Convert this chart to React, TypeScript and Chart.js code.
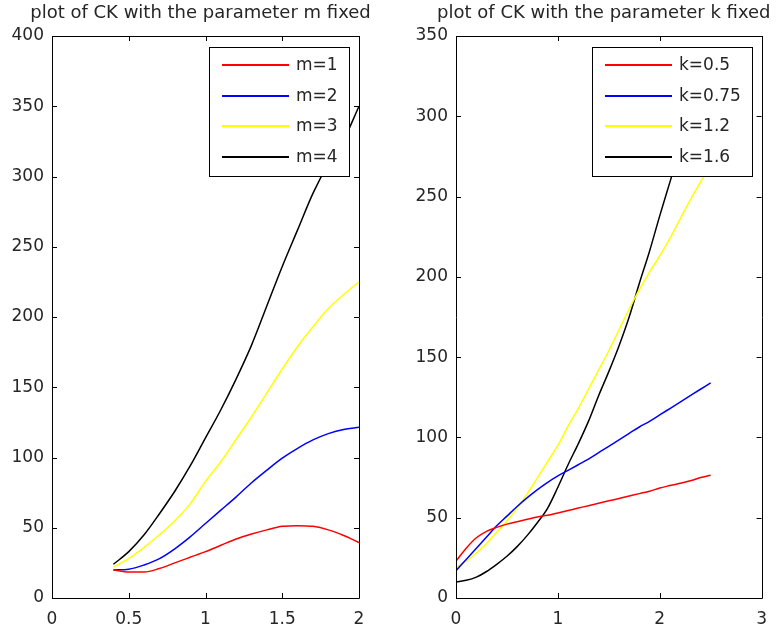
import React, { useEffect, useRef } from "react";
import { Chart, registerables } from "chart.js";
Chart.register(...registerables);

// ---- Left subplot: parameter m fixed ----
const mX = [0.4, 0.5, 0.6, 0.7, 0.8, 0.9, 1.0, 1.1, 1.2, 1.3, 1.4, 1.5, 1.6, 1.7, 1.8, 1.9, 2.0];
const mOne = [20, 18.5, 18.5, 21, 25, 29, 33, 37.5, 42, 45.5, 48.5, 51, 51.5, 51, 48.5, 44.5, 39.5];
const mTwo = [20, 20.5, 23.5, 28, 35, 43.5, 53, 62.5, 72, 82, 91, 99.5, 106.5, 112.5, 117, 120, 121.5];
const mThree = [22, 28, 36, 45, 55, 67, 83, 97, 113, 129, 146, 163, 179, 193, 206, 216, 225];
const mFour = [24, 33, 45, 60, 76, 94, 114, 134, 156, 180, 208, 236, 262, 288, 309, 326, 350];
const mLabels = ["m=1", "m=2", "m=3", "m=4"];
const mXTicks = [0, 0.5, 1, 1.5, 2];
const mYTicks = [0, 50, 100, 150, 200, 250, 300, 350, 400];

// ---- Right subplot: parameter k fixed ----
const kX = [0, 0.1, 0.2, 0.3, 0.4, 0.5, 0.6, 0.7, 0.8, 0.9, 1.0, 1.1, 1.2, 1.3, 1.4, 1.5, 1.6, 1.7, 1.8, 1.9, 2.0, 2.1, 2.2, 2.3, 2.4, 2.5];
const kHalf = [23, 31, 37.5, 41.5, 44, 46, 47.5, 49, 50.5, 51.5, 53, 54.5, 56, 57.5, 59, 60.5, 62, 63.5, 65, 66.5, 68.5, 70, 71.5, 73, 75, 76.5];
const kThreeQ = [17, 24, 31, 38, 45, 51, 57, 62.5, 67.5, 72, 76, 79.5, 83, 86.5, 90.5, 94.5, 98.5, 102.5, 106.5, 110, 114, 118, 122, 126, 130, 134];
const kOnePtTwo = [19, 23, 28, 34, 41, 48, 56, 65, 75, 85, 95, 107, 118, 130, 142, 154, 167, 180, 192, 203, 213, 224, 236, 248, 259, 270];
const kOnePtSix = [10, 11, 13, 16.5, 21, 26, 32, 39, 47, 56, 69, 83, 96, 110, 126, 141, 157, 175, 196, 216, 238, 259, 280, 300, 320, 338];
const kLabels = ["k=0.5", "k=0.75", "k=1.2", "k=1.6"];
const kXTicks = [0, 1, 2, 3];
const kYTicks = [0, 50, 100, 150, 200, 250, 300, 350];

const seriesColors = ["#ff0000", "#0000ff", "#ffff00", "#000000"];
const FONT = "'DejaVu Sans', sans-serif";
const TEXT = "#262626";

type PlotProps = {
  xs: number[];
  series: number[][];
  labels: string[];
  xTicks: number[];
  yTicks: number[];
  title: string;
  width: number;
  height: number;
  yAxisWidth: number;
  padRight: number;
  left: number;
};

function Plot(p: PlotProps) {
  const ref = useRef<HTMLCanvasElement>(null);
  useEffect(() => {
    if (!ref.current) return;
    const frame = {
      id: "frame",
      afterDatasetsDraw(chart: any) {
        const { ctx, chartArea } = chart;
        const { left, right, top, bottom } = chartArea;
        const xs = chart.scales.x;
        const ys = chart.scales.y;
        ctx.save();
        ctx.strokeStyle = "#000";
        ctx.lineWidth = 1;
        ctx.beginPath();
        ctx.rect(Math.round(left) + 0.5, Math.round(top) + 0.5, Math.round(right - left), Math.round(bottom - top));
        ctx.stroke();
        const tl = 5;
        ctx.beginPath();
        for (const t of xs.ticks) {
          const px = Math.round(xs.getPixelForValue(t.value)) + 0.5;
          ctx.moveTo(px, bottom);
          ctx.lineTo(px, bottom - tl);
          ctx.moveTo(px, top);
          ctx.lineTo(px, top + tl);
        }
        for (const t of ys.ticks) {
          const py = Math.round(ys.getPixelForValue(t.value)) + 0.5;
          ctx.moveTo(left, py);
          ctx.lineTo(left + tl, py);
          ctx.moveTo(right, py);
          ctx.lineTo(right - tl, py);
        }
        ctx.stroke();
        ctx.restore();
      },
      afterDraw(chart: any) {
        const { ctx, chartArea } = chart;
        const { left, right, top } = chartArea;
        ctx.save();
        // title
        ctx.fillStyle = TEXT;
        ctx.font = `18px ${FONT}`;
        ctx.textAlign = "center";
        ctx.textBaseline = "alphabetic";
        ctx.fillText(p.title, (left + right) / 2 - 5, 18);
        // legend
        ctx.font = `17px ${FONT}`;
        const tw = Math.max(...p.labels.map((l) => ctx.measureText(l).width));
        const lineLen = 67;
        const w = Math.round(13 + lineLen + 7 + tw + 11);
        const h = 129;
        const bx = Math.round(right - 10 - w);
        const by = Math.round(top + 11);
        ctx.fillStyle = "#fff";
        ctx.fillRect(bx, by, w, h);
        ctx.strokeStyle = "#000";
        ctx.lineWidth = 1;
        ctx.strokeRect(bx + 0.5, by + 0.5, w, h);
        ctx.textAlign = "left";
        ctx.textBaseline = "middle";
        p.labels.forEach((lab, i) => {
          const cy = Math.round(by + 18 + i * 30.7);
          ctx.strokeStyle = seriesColors[i];
          ctx.lineWidth = 2;
          ctx.beginPath();
          ctx.moveTo(bx + 13, cy);
          ctx.lineTo(bx + 13 + lineLen, cy);
          ctx.stroke();
          ctx.fillStyle = TEXT;
          ctx.fillText(lab, bx + 13 + lineLen + 7, cy + 1);
        });
        ctx.restore();
      },
    };
    const chart = new Chart(ref.current, {
      type: "line",
      data: {
        datasets: p.series.map((ys, i) => ({
          label: p.labels[i],
          data: p.xs.map((x, j) => ({ x, y: ys[j] })),
          borderColor: seriesColors[i],
          backgroundColor: seriesColors[i],
          borderWidth: 1.5,
          pointRadius: 0,
          cubicInterpolationMode: "monotone" as const,
          fill: false,
        })),
      },
      options: {
        animation: false,
        responsive: false,
        maintainAspectRatio: false,
        layout: { padding: { left: 0, top: 36, right: p.padRight, bottom: 0 } },
        plugins: { legend: { display: false }, title: { display: false }, tooltip: { enabled: false } },
        scales: {
          x: {
            type: "linear",
            min: p.xTicks[0],
            max: p.xTicks[p.xTicks.length - 1],
            grid: { display: false, drawTicks: false },
            border: { display: false },
            afterBuildTicks: (s: any) => {
              s.ticks = p.xTicks.map((v) => ({ value: v }));
            },
            afterFit: (s: any) => {
              s.height = 34;
            },
            ticks: {
              color: TEXT,
              font: { family: FONT, size: 17 },
              padding: 11,
              maxRotation: 0,
              autoSkip: false,
              callback: (v: any) => String(v),
            },
          },
          y: {
            type: "linear",
            min: p.yTicks[0],
            max: p.yTicks[p.yTicks.length - 1],
            grid: { display: false, drawTicks: false },
            border: { display: false },
            afterBuildTicks: (s: any) => {
              s.ticks = p.yTicks.map((v) => ({ value: v }));
            },
            afterFit: (s: any) => {
              s.width = p.yAxisWidth;
            },
            ticks: {
              color: TEXT,
              font: { family: FONT, size: 17 },
              padding: 8,
              autoSkip: false,
              callback: (v: any) => String(v),
            },
          },
        },
      },
      plugins: [frame],
    });
    return () => chart.destroy();
  }, []);
  return (
    <canvas
      ref={ref}
      width={p.width}
      height={p.height}
      style={{ position: "absolute", left: p.left, top: 0, width: p.width, height: p.height }}
    />
  );
}

export default function App() {
  return (
    <div style={{ position: "absolute", left: 0, top: 0, width: 778, height: 632, background: "#fff" }}>
      <Plot
        xs={mX}
        series={[mOne, mTwo, mThree, mFour]}
        labels={mLabels}
        xTicks={mXTicks}
        yTicks={mYTicks}
        title="plot of CK with the parameter m fixed"
        width={390}
        height={632}
        yAxisWidth={52}
        padRight={31}
        left={0}
      />
      <Plot
        xs={kX}
        series={[kHalf, kThreeQ, kOnePtTwo, kOnePtSix]}
        labels={kLabels}
        xTicks={kXTicks}
        yTicks={kYTicks}
        title="plot of CK with the parameter k fixed"
        width={388}
        height={632}
        yAxisWidth={66}
        padRight={13}
        left={390}
      />
    </div>
  );
}
